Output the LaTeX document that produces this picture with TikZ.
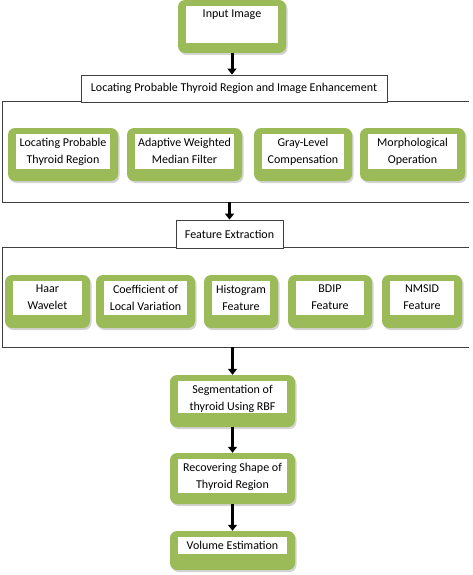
\documentclass[tikz,border=0pt]{standalone}
\usepackage{fontspec}
\setmainfont{Carlito}
\usetikzlibrary{shadows,arrows.meta,fit}
\definecolor{grn}{HTML}{9BBB59}
\definecolor{framec}{HTML}{404040}
\tikzset{
  gbox/.style={fill=grn, draw=none, rounded corners=7pt, inner sep=0pt,
    drop shadow={shadow xshift=1.5pt, shadow yshift=-2pt, fill=black!30, opacity=0.55}},
  wbox/.style={fill=white, draw=none},
  lbl/.style={font=\fontsize{12}{17}\selectfont, align=center, inner sep=1pt, anchor=north},
  tbox/.style={draw=framec, line width=0.8pt, fill=white, inner sep=0pt, font=\fontsize{12}{14}\selectfont},
  framebox/.style={draw=framec, line width=0.8pt},
  arr/.style={line width=3pt, -{Triangle[width=9pt,length=6pt]}},
}
\newcommand\gb[7]{%
  \node[gbox, fit={(#2,#3) (#4,#5)}] (#1) {};
  \path[wbox] (#2+8,#3+6) rectangle (#4-8,#6);
  \node[lbl] (#1-t) at ({(#2+#4)/2},#3+9) {#7};
}
\begin{document}
\begin{tikzpicture}[x=1pt,y=-1pt]
\useasboundingbox (0,0) rectangle (473,575);
\fill[white] (0,0) rectangle (473,575);

% big frame boxes (open at right)
\node[inner sep=0pt, fit={(3,102) (469,202)}] (big1) {};
\draw[framebox] (big1.north east) -- (big1.north west) -- (big1.south west) -- (big1.south east);
\node[inner sep=0pt, fit={(3,248) (469,347)}] (big2) {};
\draw[framebox] (big2.north east) -- (big2.north west) -- (big2.south west) -- (big2.south east);

% title boxes
\node[tbox, fit={(81,75) (387,102)}] (t1) {};
\node at (t1.center) [font=\fontsize{12}{14}\selectfont] {Locating Probable Thyroid Region and Image Enhancement};
\node[tbox, fit={(176,220) (283,248)}] (t2) {};
\node at (t2.center) [font=\fontsize{12}{14}\selectfont] {Feature Extraction};

% green boxes
\gb{in}{178}{0}{286}{53}{43}{Input Image}

\gb{ra}{8}{128}{118}{181}{169}{Locating Probable\\Thyroid Region}
\gb{rb}{127}{128}{242}{181}{169}{Adaptive Weighted\\Median Filter}
\gb{rc}{254}{128}{352}{181}{169}{Gray-Level\\Compensation}
\gb{rd}{360}{128}{465}{181}{169}{Morphological\\Operation}

\gb{fa}{5}{275}{90}{328}{315}{Haar\\Wavelet}
\gb{fb}{96}{275}{195}{328}{315}{Coefficient of\\Local Variation}
\gb{fc}{204}{275}{278}{328}{315}{Histogram\\Feature}
\gb{fd}{288}{275}{372}{328}{315}{BDIP\\Feature}
\gb{fe}{382}{275}{462}{328}{315}{NMSID\\Feature}

\gb{seg}{170}{375}{295}{427}{413}{Segmentation of\\thyroid Using RBF}
\gb{rec}{170}{453}{295}{504}{493}{Recovering Shape of\\Thyroid Region}
\gb{vol}{170}{531}{295}{570}{554}{Volume Estimation}

% arrows
\draw[arr] (in.south) -- (in.south |- t1.north);
\draw[arr] (t2.north |- big1.south) -- (t2.north);
\draw[arr] (seg.north |- big2.south) -- (seg.north);
\draw[arr] (seg.south) -- (rec.north);
\draw[arr] (rec.south) -- (vol.north);
\end{tikzpicture}
\end{document}
